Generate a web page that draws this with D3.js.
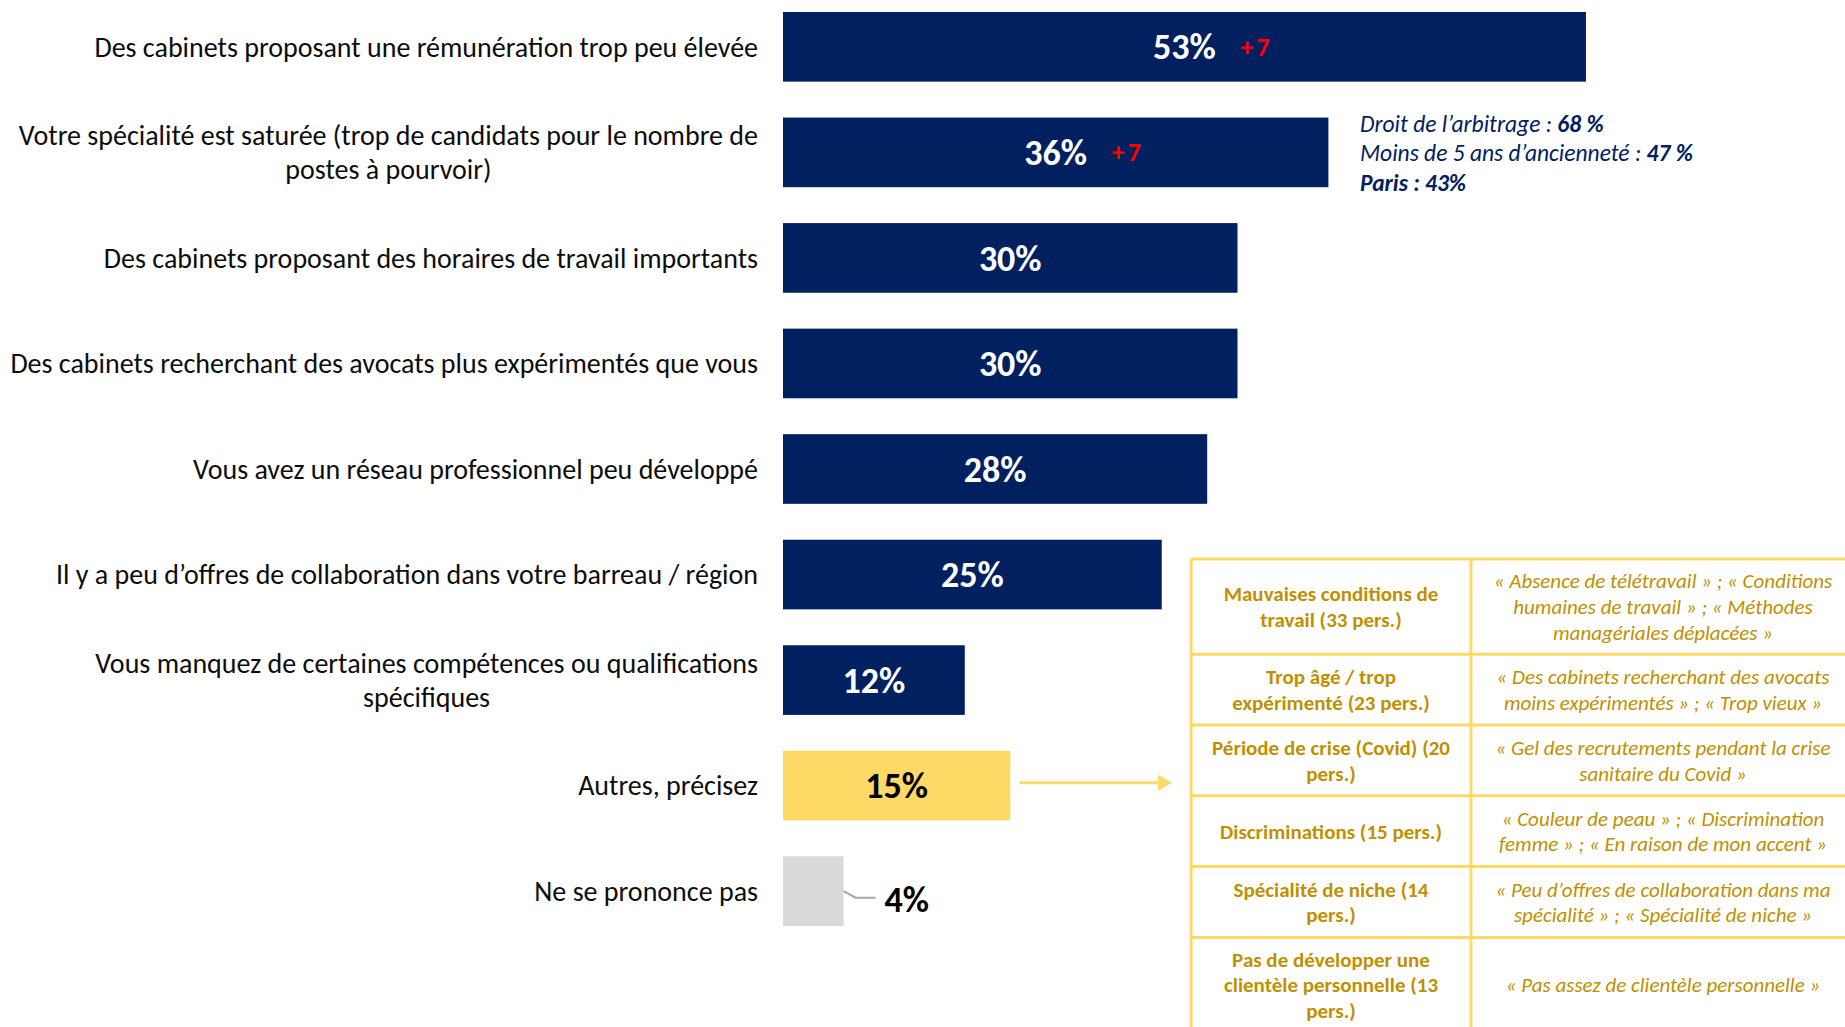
<!DOCTYPE html>
<html>
<head>
<meta charset="utf-8">
<script src="https://cdn.jsdelivr.net/npm/d3@7"></script>
<style>
  body { margin: 0; background: #fff; }
  svg text { font-family: Carlito, "Liberation Sans Narrow", "Open Sans", sans-serif; }
</style>
</head>
<body>
<svg width="1845" height="1027"></svg>
<script>
// ---- data ----
var categories = [
  ["Des cabinets proposant une rémunération trop peu élevée"],
  ["Votre spécialité est saturée (trop de candidats pour le nombre de", "postes à pourvoir)"],
  ["Des cabinets proposant des horaires de travail importants"],
  ["Des cabinets recherchant des avocats plus expérimentés que vous"],
  ["Vous avez un réseau professionnel peu développé"],
  ["Il y a peu d\u2019offres de collaboration dans votre barreau / région"],
  ["Vous manquez de certaines compétences ou qualifications", "spécifiques"],
  ["Autres, précisez"],
  ["Ne se prononce pas"]
];
var values = [53, 36, 30, 30, 28, 25, 12, 15, 4];
var deltas = ["+7", "+7", null, null, null, null, null, null, null];

var noteLabels = ["Droit de l\u2019arbitrage : ", "Moins de 5 ans d\u2019ancienneté : ", "Paris : 43%"];
var noteValues = ["68 %", "47 %", ""];

var otherReasons = [
  ["Mauvaises conditions de", "travail (33 pers.)"],
  ["Trop âgé / trop", "expérimenté (23 pers.)"],
  ["Période de crise (Covid) (20", "pers.)"],
  ["Discriminations (15 pers.)"],
  ["Spécialité de niche (14", "pers.)"],
  ["Pas de développer une", "clientèle personnelle (13", "pers.)"]
];
var otherQuotes = [
  ["« Absence de télétravail » ; « Conditions", "humaines de travail » ; « Méthodes", "managériales déplacées »"],
  ["« Des cabinets recherchant des avocats", "moins expérimentés » ; « Trop vieux »"],
  ["« Gel des recrutements pendant la crise", "sanitaire du Covid »"],
  ["« Couleur de peau » ; « Discrimination", "femme » ; « En raison de mon accent »"],
  ["« Peu d\u2019offres de collaboration dans ma", "spécialité » ; « Spécialité de niche »"],
  ["« Pas assez de clientèle personnelle »"]
];

// ---- setup ----
var svg = d3.select("svg");
var navy = "#002060", gold = "#BF9000", yellow = "#FFD966", grey = "#D9D9D9";

var x = d3.scaleLinear().domain([0, 100]).range([783, 783 + 1515]);
var y = d3.scaleBand()
    .domain(d3.range(values.length))
    .range([12, 926])
    .paddingInner(0.34)
    .paddingOuter(0);

function barColor(i) {
  if (i == 7) return yellow;
  if (i == 8) return grey;
  return navy;
}

// bars
svg.append("g").selectAll("rect")
  .data(values)
  .enter().append("rect")
    .attr("x", x(0))
    .attr("y", function(d, i) { return y(i); })
    .attr("width", function(d) { return x(d) - x(0); })
    .attr("height", y.bandwidth())
    .attr("fill", function(d, i) { return barColor(i); });

// category labels (block right-aligned, lines centred in block)
var labelRight = 758, lineGap = 34;
var lab = svg.append("g").attr("font-size", 28).attr("fill", "#0d0d0d");
categories.forEach(function(lines, i) {
  var cy = y(i) + y.bandwidth() / 2;
  var t = lab.append("text").attr("text-anchor", "middle");
  var spans = lines.map(function(s, k) {
    return t.append("tspan")
      .attr("y", cy + (k - (lines.length - 1) / 2) * lineGap)
      .attr("dy", "0.35em")
      .text(s);
  });
  var w = d3.max(spans, function(s) { return s.node().getComputedTextLength(); });
  spans.forEach(function(s) { s.attr("x", labelRight - w / 2); });
});

// value labels
var vals = svg.append("g").attr("font-weight", "bold").attr("font-size", 36);
values.forEach(function(v, i) {
  var cy = y(i) + y.bandwidth() / 2;
  if (i == 8) {
    // small bar: label outside with a leader line
    var x1 = x(v);
    svg.append("path")
      .attr("d", "M" + x1 + "," + cy + "L" + (x1 + 12) + "," + (cy + 6.5) + "L" + (x1 + 32) + "," + (cy + 6.5))
      .attr("fill", "none").attr("stroke", "#A6A6A6").attr("stroke-width", 2);
    vals.append("text")
      .attr("x", x1 + 41).attr("y", cy + 8).attr("dy", "0.35em")
      .attr("fill", "#000").text(v + "%");
    return;
  }
  var cx = (x(0) + x(v)) / 2;
  vals.append("text")
    .attr("x", cx).attr("y", cy).attr("dy", "0.35em")
    .attr("text-anchor", "middle")
    .attr("fill", i == 7 ? "#000" : "#fff")
    .text(v + "%");
  if (deltas[i]) {
    svg.append("text")
      .attr("x", cx + 56).attr("y", cy).attr("dy", "0.35em")
      .attr("font-size", 26).attr("font-weight", "bold")
      .attr("letter-spacing", 3)
      .attr("fill", "#FF0000")
      .text(deltas[i]);
  }
});

// sub-group note next to bar 2
var notes = svg.append("g").attr("font-size", 23.5).attr("font-style", "italic").attr("fill", navy);
noteLabels.forEach(function(s, k) {
  var t = notes.append("text")
    .attr("x", 1360)
    .attr("y", 123.5 + k * 29.5)
    .attr("dy", "0.35em");
  if (k == 2) {
    t.attr("font-weight", "bold").text(s);
  } else {
    t.append("tspan").text(s);
    t.append("tspan").attr("font-weight", "bold").text(noteValues[k]);
  }
});

// arrow from "Autres" to the table
var tableLeft = 1191, colDiv = 1471, tableRight = 1855, tableTop = 559;
var ay = y(7) + y.bandwidth() / 2 - 3;
svg.append("line")
  .attr("x1", x(15) + 9).attr("x2", tableLeft - 31)
  .attr("y1", ay).attr("y2", ay)
  .attr("stroke", yellow).attr("stroke-width", 3);
svg.append("path")
  .attr("d", "M" + (tableLeft - 33) + "," + (ay - 8) + "L" + (tableLeft - 19) + "," + ay + "L" + (tableLeft - 33) + "," + (ay + 8) + "Z")
  .attr("fill", yellow);

// table of "Autres" answers
var rowLine = 25.7;
var table = svg.append("g");
var rowTop = tableTop;
var rowTops = [];
otherReasons.forEach(function(r, i) {
  var n = Math.max(r.length, otherQuotes[i].length);
  var h = n * 24.4 + 22;
  rowTops.push([rowTop, h]);
  rowTop += h;
});

rowTops.forEach(function(rt, i) {
  var cy = rt[0] + rt[1] / 2;
  [[otherReasons[i], (tableLeft + colDiv) / 2, "bold", "normal"],
   [otherQuotes[i], (colDiv + tableRight) / 2, "normal", "italic"]].forEach(function(c) {
    var t = table.append("text")
      .attr("text-anchor", "middle")
      .attr("font-size", 21)
      .attr("font-weight", c[2])
      .attr("font-style", c[3])
      .attr("fill", gold);
    c[0].forEach(function(s, k) {
      t.append("tspan")
        .attr("x", c[1])
        .attr("y", cy + (k - (c[0].length - 1) / 2) * rowLine)
        .attr("dy", "0.35em")
        .text(s);
    });
  });
});

var grid = table.append("g").attr("stroke", yellow).attr("stroke-width", 3);
rowTops.forEach(function(rt) {
  grid.append("line").attr("x1", tableLeft).attr("x2", tableRight)
    .attr("y1", rt[0]).attr("y2", rt[0]);
});
grid.append("line").attr("x1", tableLeft).attr("x2", tableRight)
  .attr("y1", rowTop).attr("y2", rowTop);
[tableLeft, colDiv].forEach(function(cx) {
  grid.append("line").attr("x1", cx).attr("x2", cx)
    .attr("y1", tableTop).attr("y2", rowTop);
});
</script>
</body>
</html>
